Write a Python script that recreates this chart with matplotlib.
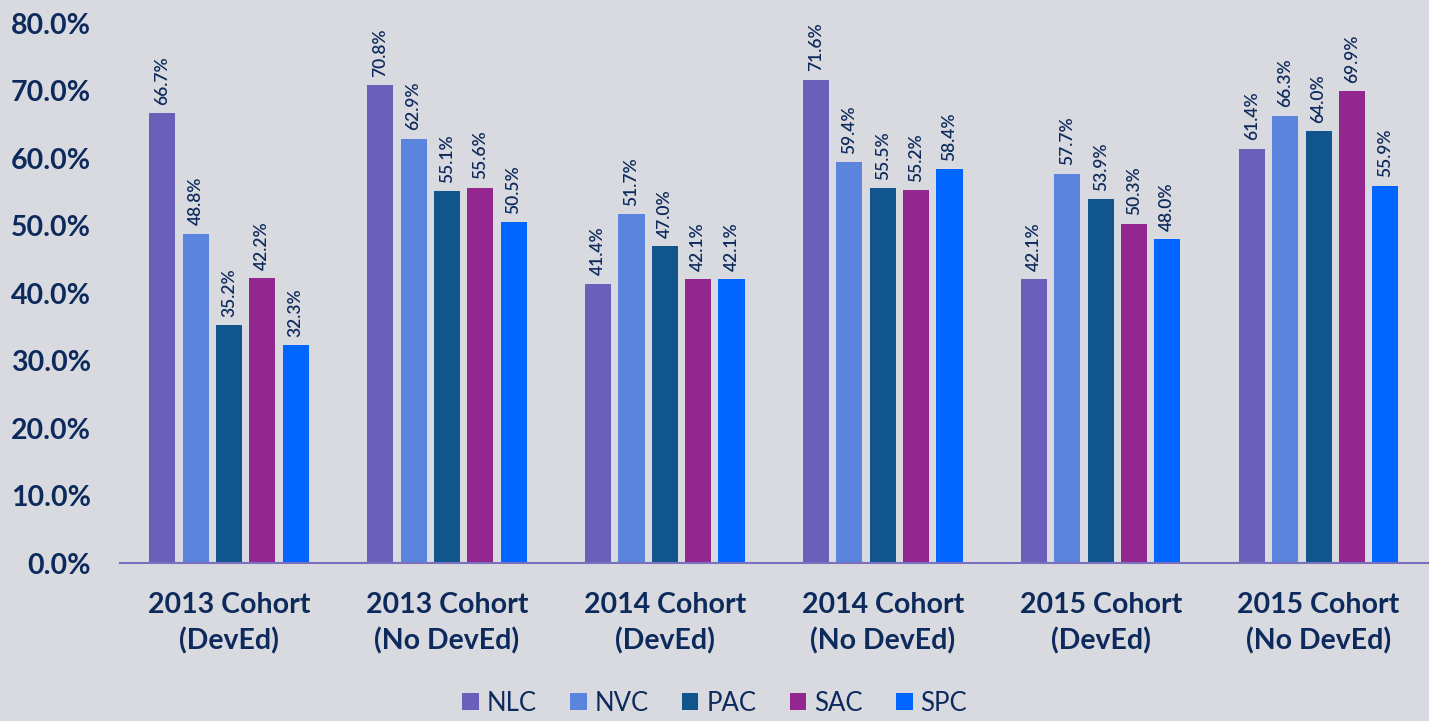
import numpy as np
import matplotlib
matplotlib.use("Agg")
import matplotlib.pyplot as plt
from matplotlib.patches import Patch

categories = ["2013 Cohort\n(DevEd)", "2013 Cohort\n(No DevEd)", "2014 Cohort\n(DevEd)",
              "2014 Cohort\n(No DevEd)", "2015 Cohort\n(DevEd)", "2015 Cohort\n(No DevEd)"]
series = ["NLC", "NVC", "PAC", "SAC", "SPC"]
nlc = [66.7, 70.8, 41.4, 71.6, 42.1, 61.4]
nvc = [48.8, 62.9, 51.7, 59.4, 57.7, 66.3]
pac = [35.2, 55.1, 47.0, 55.5, 53.9, 64.0]
sac = [42.2, 55.6, 42.1, 55.2, 50.3, 69.9]
spc = [32.3, 50.5, 42.1, 58.4, 48.0, 55.9]
yticks = [0, 10, 20, 30, 40, 50, 60, 70, 80]

values = [nlc, nvc, pac, sac, spc]
colors = ["#6a5fb9", "#5b84dc", "#10568c", "#93278f", "#0066ff"]
navy = "#0d2a5c"
bg = "#d9dadf"

plt.rcParams["font.family"] = ["Lato", "DejaVu Sans"]

fig = plt.figure(figsize=(14.29, 7.21), dpi=100, facecolor=bg)
ax = fig.add_axes([0.084, 0.219, 0.915, 0.749])
ax.set_facecolor(bg)

x = np.arange(len(categories))
w = 0.12
step = 0.153
for i, (name, vals, c) in enumerate(zip(series, values, colors)):
    pos = x + (i - 2) * step
    bars = ax.bar(pos, vals, width=w, color=c, label=name, zorder=2)
    for b, v in zip(bars, vals):
        ax.annotate(f"{v:.1f}%", (b.get_x() + b.get_width() / 2, v),
                    xytext=(0, 6), textcoords="offset points",
                    rotation=90, ha="center", va="bottom",
                    fontsize=12.5, fontweight="semibold", color=navy)

ax.set_xlim(-0.5, 5.5)
ax.set_ylim(0, 80)
ax.set_yticks(yticks)
ax.set_yticklabels([f"{t:.1f}%" for t in yticks], fontsize=20.5,
                   fontweight="bold", color=navy)
ax.set_xticks(x)
ax.set_xticklabels(categories, fontsize=20.5, fontweight="bold", color=navy,
                   linespacing=1.4)
ax.tick_params(axis="both", length=0)
ax.tick_params(axis="x", pad=21)
ax.tick_params(axis="y", pad=21)

for s in ["top", "right", "left"]:
    ax.spines[s].set_visible(False)
ax.spines["bottom"].set_color("#7b6fc0")
ax.spines["bottom"].set_linewidth(1.5)

handles = [Patch(facecolor=c, label=n) for n, c in zip(series, colors)]
leg = fig.legend(handles=handles, loc="lower center", bbox_to_anchor=(0.5, -0.025),
                 ncol=5, frameon=False, fontsize=18.5, handlelength=0.65,
                 handleheight=0.65, handletextpad=0.3, columnspacing=1.3)
for t in leg.get_texts():
    t.set_color(navy)

fig.savefig("out.png", dpi=100, facecolor=bg)
